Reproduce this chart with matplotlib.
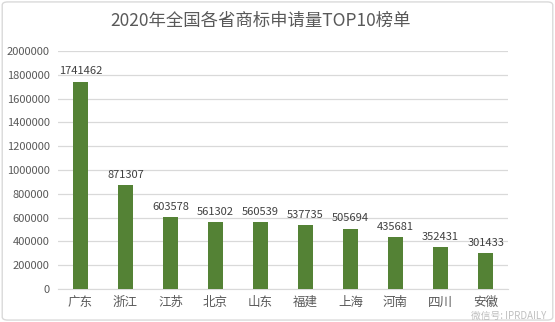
import matplotlib.pyplot as plt
from matplotlib.patches import FancyBboxPatch

plt.rcParams['font.family'] = ['Noto Sans CJK SC', 'DejaVu Sans']

# Data
provinces = ['广东', '浙江', '江苏', '北京', '山东', '福建', '上海', '河南', '四川', '安徽']
applications = [1741462, 871307, 603578, 561302, 560539, 537735, 505694, 435681, 352431, 301433]
y_ticks = list(range(0, 2000001, 200000))

fig = plt.figure(figsize=(5.55, 3.22), dpi=100)
ax = fig.add_axes([0.1045, 0.1025, 0.8110, 0.7391])

# Light border around the figure
fig.patches.append(FancyBboxPatch((0.004, 0.006), 0.992, 0.988, boxstyle='round,pad=0,rounding_size=0.01',
                                  transform=fig.transFigure, facecolor='none', edgecolor='#d9d9d9', linewidth=1))

x = range(len(provinces))
bars = ax.bar(x, applications, width=0.33, color='#548235', zorder=3)

for xi, v in zip(x, applications):
    ax.text(xi, v + 45000, str(v), ha='center', va='bottom', fontsize=8, color='#404040', zorder=4)

ax.set_xlim(-0.5, len(provinces) - 0.5)
ax.set_ylim(0, 2000000)
ax.set_yticks(y_ticks)
ax.set_yticklabels([str(t) for t in y_ticks])
ax.set_xticks(list(x))
ax.set_xticklabels(provinces)

ax.grid(True, axis='y', color='#d9d9d9', linewidth=0.9, zorder=0)
for side in ['top', 'right', 'left']:
    ax.spines[side].set_visible(False)
ax.spines['bottom'].set_color('#d9d9d9')
ax.tick_params(axis='both', length=0, colors='#595959', labelsize=8)
ax.tick_params(axis='x', labelsize=9, pad=5)
ax.tick_params(axis='y', pad=6)

fig.text(0.47, 0.935, '2020年全国各省商标申请量TOP10榜单', ha='center', va='center',
         fontsize=12.5, color='#595959')

# watermark
fig.text(0.985, 0.018, '微信号: IPRDAILY', ha='right', va='center', fontsize=7,
         color='#b0b0b0', alpha=0.8, zorder=10)

fig.savefig('out.png', dpi=100)
